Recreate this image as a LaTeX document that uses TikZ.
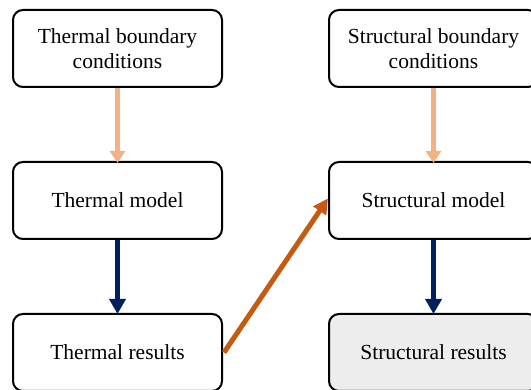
\documentclass[tikz,border=0pt]{standalone}
\usepackage{fontspec}
\setmainfont{Liberation Serif}
\usetikzlibrary{arrows.meta}
\definecolor{peach}{HTML}{F4B183}
\definecolor{navy}{HTML}{002060}
\definecolor{rust}{HTML}{C55A11}
\definecolor{lightgray}{HTML}{EDEDED}
\begin{document}
\begin{tikzpicture}[x=1pt,y=-1pt,
  box/.style={draw=black, line width=2pt, rounded corners=10pt, fill=white,
    minimum width=209pt, minimum height=77pt, inner sep=0pt,
    align=center, font=\fontsize{21.5}{25}\selectfont},
  peacharrow/.style={draw=peach, line width=4.5pt, -{Triangle[width=15pt,length=12pt]}},
  navyarrow/.style={draw=navy, line width=5pt, -{Triangle[width=16pt,length=15pt]}},
  rustarrow/.style={draw=rust, line width=5pt, -{Triangle[width=15pt,length=15pt]}}]
\useasboundingbox (0,0) rectangle (531,390);
\clip (0,0) rectangle (531,390);
\node[box] (tbc) at (117.5,48.5) {Thermal boundary\\conditions};
\node[box] (tm) at (117.5,200.5) {Thermal model};
\node[box] (tr) at (117.5,352.5) {Thermal results};
\node[box] (sbc) at (433.5,48.5) {Structural boundary\\conditions};
\node[box] (sm) at (433.5,200.5) {Structural model};
\node[box, fill=lightgray] (sr) at (433.5,352.5) {Structural results};
\draw[peacharrow] (tbc.south) -- ([yshift=-2pt]tm.north);
\draw[peacharrow] (sbc.south) -- ([yshift=-2pt]sm.north);
\draw[navyarrow] (tm.south) -- ([yshift=-1pt]tr.north);
\draw[navyarrow] (sm.south) -- ([yshift=-1pt]sr.north);
\draw[rustarrow] ([xshift=1pt]tr.east) -- ([yshift=2pt]sm.west);
\end{tikzpicture}
\end{document}
